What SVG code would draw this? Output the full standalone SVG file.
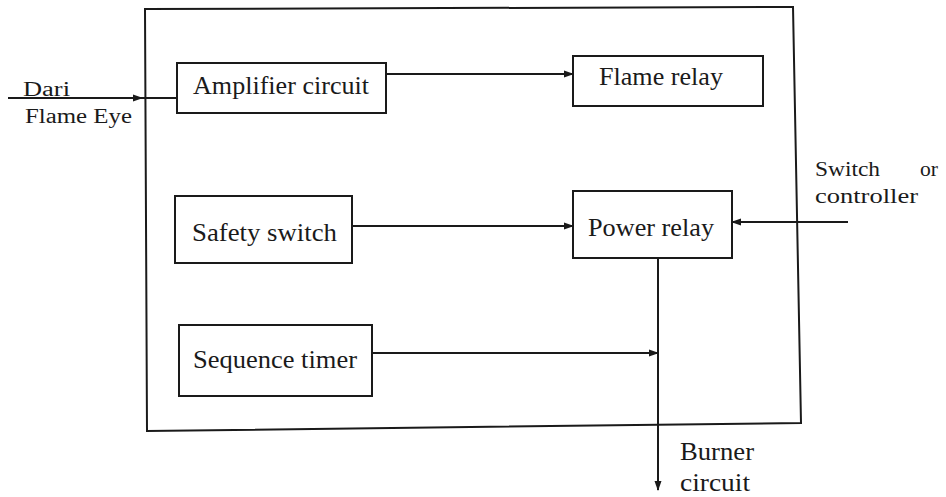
<svg xmlns="http://www.w3.org/2000/svg" width="946" height="497" viewBox="0 0 946 497">
<defs>
<style>
.box{fill:none;stroke:#1a1a1a;stroke-width:2}
.ln{fill:none;stroke:#1a1a1a;stroke-width:2}
.t{font-family:"Liberation Serif","DejaVu Serif",serif;font-size:26px;fill:#1a1a1a}
.s{font-family:"Liberation Serif","DejaVu Serif",serif;font-size:20px;fill:#1a1a1a}
.b{font-family:"Liberation Serif","DejaVu Serif",serif;font-size:25px;fill:#1a1a1a}
</style>
<marker id="ah" viewBox="0 0 10 10" refX="9" refY="5" markerWidth="10" markerHeight="10" markerUnits="userSpaceOnUse" orient="auto">
<path d="M0,1.5 L10,5 L0,8.5 Z" fill="#1a1a1a"/>
</marker>
</defs>
<rect width="946" height="497" fill="#ffffff"/>
<g id="frame"><path class="box" d="M145,9 L793,7 L801,423 L147,431 Z"/></g>
<g id="amplifier"><rect class="box" x="177" y="63" width="209" height="50"/><text class="t" x="193" y="94" textLength="176" lengthAdjust="spacingAndGlyphs">Amplifier circuit</text></g>
<g id="flame-relay"><rect class="box" x="573" y="56" width="190" height="50"/><text class="t" x="599" y="85" textLength="124" lengthAdjust="spacingAndGlyphs">Flame relay</text></g>
<g id="safety"><rect class="box" x="175" y="196" width="177" height="67"/><text class="t" x="192" y="241" textLength="145" lengthAdjust="spacingAndGlyphs">Safety switch</text></g>
<g id="power-relay"><rect class="box" x="573" y="191" width="159" height="67"/><text class="t" x="588" y="236" textLength="126" lengthAdjust="spacingAndGlyphs">Power relay</text></g>
<g id="timer"><rect class="box" x="179" y="325" width="193" height="71"/><text class="t" x="193" y="368" textLength="164" lengthAdjust="spacingAndGlyphs">Sequence timer</text></g>
<g id="labels">
<text class="s" x="23" y="96" textLength="47" lengthAdjust="spacingAndGlyphs">Dari</text>
<text class="s" x="25" y="123" textLength="107" lengthAdjust="spacingAndGlyphs">Flame Eye</text>
<text class="s" x="815" y="176" textLength="65" lengthAdjust="spacingAndGlyphs">Switch</text>
<text class="s" x="920" y="176" textLength="18" lengthAdjust="spacingAndGlyphs">or</text>
<text class="s" x="815" y="203" textLength="103" lengthAdjust="spacingAndGlyphs">controller</text>
<text class="b" x="680" y="460" textLength="74" lengthAdjust="spacingAndGlyphs">Burner</text>
<text class="b" x="680" y="491" textLength="70" lengthAdjust="spacingAndGlyphs">circuit</text>
</g>
<g id="connectors">
<line class="ln" x1="8" y1="98" x2="142" y2="98" marker-end="url(#ah)"/>
<line class="ln" x1="142" y1="98" x2="177" y2="98"/>
<line class="ln" x1="386" y1="74" x2="573" y2="74" marker-end="url(#ah)"/>
<line class="ln" x1="352" y1="226" x2="573" y2="226" marker-end="url(#ah)"/>
<line class="ln" x1="848" y1="222" x2="732" y2="222" marker-end="url(#ah)"/>
<line class="ln" x1="372" y1="353" x2="658" y2="353" marker-end="url(#ah)"/>
<line class="ln" x1="658" y1="258" x2="658" y2="490" marker-end="url(#ah)"/>
</g>
</svg>
